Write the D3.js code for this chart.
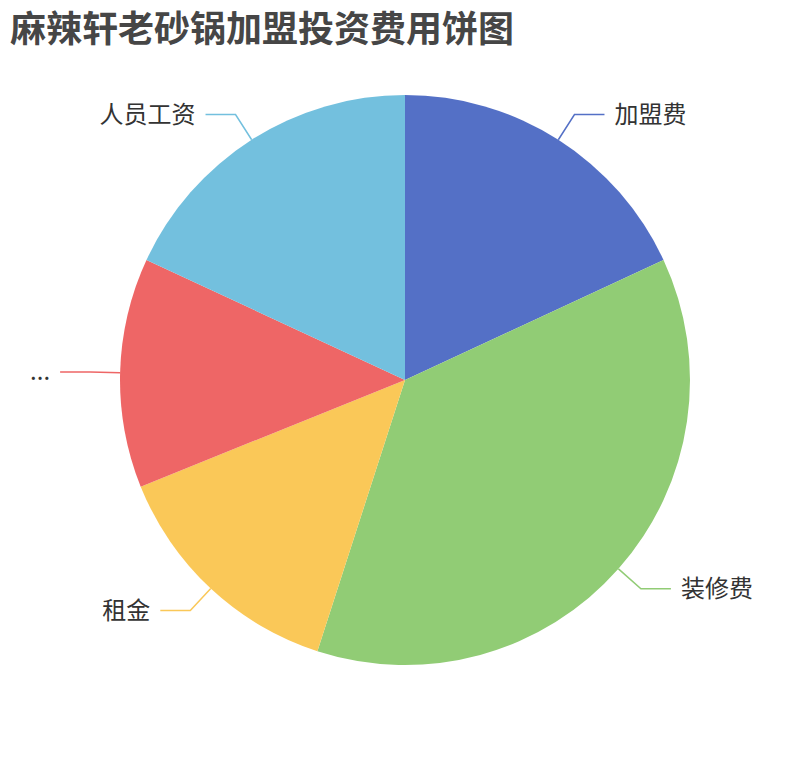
<!DOCTYPE html>
<html>
<head>
<meta charset="utf-8">
<script src="https://cdn.jsdelivr.net/npm/d3@7"></script>
<style>
    body { margin: 0; background: #fff; }
    svg { display: block; font-family: "Noto Sans CJK SC", "Noto Sans", sans-serif; }
</style>
</head>
<body>
<div id="chart"></div>
<script>
// Data
const categories = ['加盟费', '装修费', '租金', '...', '人员工资'];
const values = [5, 10.2, 3.85, 3.6, 5];
const colors = ['#5470c6', '#91cc75', '#fac858', '#ee6666', '#73c0de'];
const titleText = '麻辣轩老砂锅加盟投资费用饼图';

function draw() {
    const dimensions = {
        width: 810,
        height: 760,
        cx: 405,
        cy: 380,
        radius: 285,
        lineLength: 30,  // radial part of the label line
        lineLength2: 30, // horizontal part
        labelGap: 10
    }

    const dataset = categories.map((name, i) => ({ name, value: values[i] }));

    const colorScale = d3.scaleOrdinal()
        .domain(categories)
        .range(colors);

    const pie = d3.pie()
        .sort(null)
        .value(d => d.value);

    const arc = d3.arc()
        .innerRadius(0)
        .outerRadius(dimensions.radius);

    const svg = d3.select('#chart')
        .append('svg')
        .attr('width', dimensions.width)
        .attr('height', dimensions.height);

    svg.append('text')
        .attr('x', 10)
        .attr('y', 42)
        .attr('fill', '#464646')
        .style('font-size', '36px')
        .style('font-weight', 'bold')
        .text(titleText);

    const container = svg.append('g')
        .attr('transform', `translate(${dimensions.cx}, ${dimensions.cy})`);

    const arcs = pie(dataset);

    container.selectAll('path.slice')
        .data(arcs)
        .join('path')
        .attr('class', 'slice')
        .attr('d', arc)
        .attr('fill', d => colorScale(d.data.name));

    // Label lines: radial segment from the edge, then a horizontal one
    const points = d => {
        const a = (d.startAngle + d.endAngle) / 2;
        const sx = Math.sin(a), sy = -Math.cos(a);
        const r = dimensions.radius;
        const p0 = [sx * r, sy * r];
        const p1 = [sx * (r + dimensions.lineLength), sy * (r + dimensions.lineLength)];
        const dir = sx >= 0 ? 1 : -1;
        const p2 = [p1[0] + dir * dimensions.lineLength2, p1[1]];
        return { p0, p1, p2, dir };
    }

    container.selectAll('polyline')
        .data(arcs)
        .join('polyline')
        .attr('points', d => {
            const p = points(d);
            return [p.p0, p.p1, p.p2].map(q => q.join(',')).join(' ');
        })
        .attr('fill', 'none')
        .attr('stroke', d => colorScale(d.data.name))
        .attr('stroke-width', 1.5);

    container.selectAll('text.label')
        .data(arcs)
        .join('text')
        .attr('class', 'label')
        .attr('x', d => {
            const p = points(d);
            return p.p2[0] + p.dir * dimensions.labelGap;
        })
        .attr('y', d => points(d).p2[1])
        .attr('dy', '0.35em')
        .attr('text-anchor', d => points(d).dir > 0 ? 'start' : 'end')
        .attr('fill', '#333')
        .style('font-size', '24px')
        .text(d => d.data.name);
}

draw();
</script>
</body>
</html>
